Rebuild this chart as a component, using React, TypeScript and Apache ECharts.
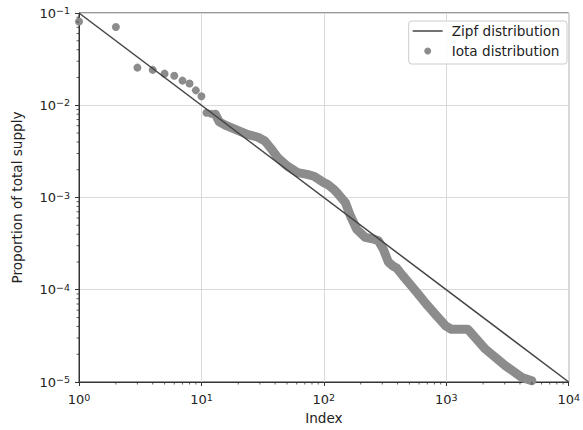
import React, { useEffect, useRef } from "react";
import * as echarts from "echarts";

// Leading holders, one point per rank
const headIndex = [1, 2, 3, 4, 5, 6, 7, 8, 9, 10, 11, 12, 13];
const headShare = [0.081, 0.0705, 0.0256, 0.0242, 0.022, 0.0209, 0.0185, 0.0172, 0.0145, 0.0125, 0.0083, 0.0081, 0.008];

// Dense tail of the ranking, where the points merge into a band
const tailIndex = [13, 14, 16, 20, 24, 29, 33, 37, 42, 50, 61, 73, 83, 100, 107, 121, 128, 150, 165, 186, 218, 254, 279, 306, 336, 369, 393, 445, 519, 606, 686, 826, 995, 1100, 1500, 2090, 3040, 4150, 5000];
const tailShare = [0.008, 0.0066, 0.006, 0.0053, 0.0048, 0.0045, 0.0041, 0.0034, 0.0027, 0.0022, 0.00186, 0.00178, 0.0017, 0.00145, 0.00139, 0.00122, 0.00113, 0.00088, 0.00063, 0.00045, 0.00037, 0.000355, 0.00034, 0.000275, 0.0002, 0.00018, 0.000172, 0.00014, 0.00011, 0.000086, 0.00007, 0.000053, 0.0000403, 0.0000373, 0.0000373, 0.0000227, 0.000015, 0.0000112, 0.0000103];

// Reference power law: share = 0.1 / index
const zipfIndex = [1, 10000];
const zipfShare = [0.1, 0.00001];

// Minor tick positions on the log axes
const xMinor = [1, 10, 100, 1000].flatMap((d) => [2, 3, 4, 5, 6, 7, 8, 9].map((k) => k * d));
const yMinor = [1e-5, 1e-4, 1e-3, 1e-2].flatMap((d) => [2, 3, 4, 5, 6, 7, 8, 9].map((k) => k * d));

const FONT = "DejaVu Sans";
const GREY = "#8c8c8c";
const TEXT = "#222";

// "10" followed by the exponent as a raised, smaller fragment
function powerLabel(v: number): string {
  const e = Math.round(Math.log10(v));
  const exp = e < 0 ? "\u2212" + String(-e) : String(e);
  return "{b|10}{s|" + exp + "}";
}

const tickRich = {
  b: { fontFamily: FONT, fontSize: 13, lineHeight: 15, color: TEXT, verticalAlign: "middle" },
  s: { fontFamily: FONT, fontSize: 9.5, lineHeight: 10, color: TEXT, verticalAlign: "top" },
};

export default function App() {
  const ref = useRef<HTMLDivElement>(null);

  useEffect(() => {
    if (!ref.current) return;
    const chart = echarts.init(ref.current, null, { renderer: "svg" });

    const axisCommon = {
      type: "log" as const,
      logBase: 10,
      axisLine: { show: true, lineStyle: { color: "#333", width: 1 } },
      axisTick: { show: true, inside: false, length: 4, lineStyle: { color: "#333" } },
      splitLine: { show: true, lineStyle: { color: "#dadada", width: 1 } },
      minorTick: { show: false },
      nameTextStyle: { fontFamily: FONT, fontSize: 13.6, color: TEXT },
      nameLocation: "middle" as const,
    };

    chart.setOption({
      animation: false,
      backgroundColor: "#fff",
      grid: {
        left: 79,
        right: 9,
        top: 13,
        bottom: 47,
        show: true,
        borderColor: "#333",
        borderWidth: 1,
        backgroundColor: "transparent",
      },
      xAxis: {
        ...axisCommon,
        min: 1,
        max: 10000,
        name: "Index",
        nameGap: 29,
        axisLabel: { margin: 10, formatter: powerLabel, rich: tickRich },
      },
      yAxis: {
        ...axisCommon,
        min: 0.00001,
        max: 0.1,
        name: "Proportion of total supply",
        nameGap: 55,
        axisLabel: { margin: 9, formatter: powerLabel, rich: tickRich },
      },
      legend: {
        orient: "vertical",
        right: 16,
        top: 21,
        padding: [3, 7, 6, 4],
        itemGap: 6,
        itemWidth: 30,
        itemHeight: 7,
        borderColor: "#cccccc",
        borderWidth: 1,
        borderRadius: 3,
        backgroundColor: "rgba(255,255,255,0.85)",
        textStyle: { fontFamily: FONT, fontSize: 13.6, color: TEXT, padding: [0, 0, 0, 4] },
        data: [
          { name: "Zipf distribution", icon: "path://M0,0L30,0L30,1.5L0,1.5Z" },
          { name: "Iota distribution", icon: "circle", itemStyle: { color: GREY } },
        ],
      },
      series: [
        {
          name: "Zipf distribution",
          type: "line",
          data: zipfIndex.map((x, i) => [x, zipfShare[i]]),
          showSymbol: false,
          symbol: "none",
          lineStyle: { color: "#444", width: 1.5 },
          itemStyle: { color: "#444" },
          z: 3,
        },
        {
          name: "Iota distribution",
          type: "line",
          data: tailIndex.map((x, i) => [x, tailShare[i]]),
          showSymbol: false,
          symbol: "none",
          lineStyle: { color: GREY, width: 9, cap: "round", join: "round" },
          itemStyle: { color: GREY },
          z: 2,
        },
        {
          name: "Iota distribution",
          type: "scatter",
          data: headIndex.map((x, i) => [x, headShare[i]]),
          symbol: "circle",
          symbolSize: 8,
          itemStyle: { color: GREY, opacity: 1 },
          z: 2,
        },
        {
          type: "custom",
          silent: true,
          clip: false,
          data: xMinor.map((v) => [v, 0.00001]),
          renderItem: (_p: any, api: any) => {
            const pt = api.coord([api.value(0), api.value(1)]);
            return {
              type: "line",
              shape: { x1: pt[0], y1: pt[1], x2: pt[0], y2: pt[1] + 2.5 },
              style: { stroke: "#333", lineWidth: 0.8 },
            };
          },
          z: 5,
        },
        {
          type: "custom",
          silent: true,
          clip: false,
          data: yMinor.map((v) => [1, v]),
          renderItem: (_p: any, api: any) => {
            const pt = api.coord([api.value(0), api.value(1)]);
            return {
              type: "line",
              shape: { x1: pt[0] - 2.5, y1: pt[1], x2: pt[0], y2: pt[1] },
              style: { stroke: "#333", lineWidth: 0.8 },
            };
          },
          z: 5,
        },
      ],
    });

    return () => chart.dispose();
  }, []);

  return (
    <div
      ref={ref}
      style={{ position: "fixed", left: 0, top: 0, width: 583, height: 430 }}
    />
  );
}
